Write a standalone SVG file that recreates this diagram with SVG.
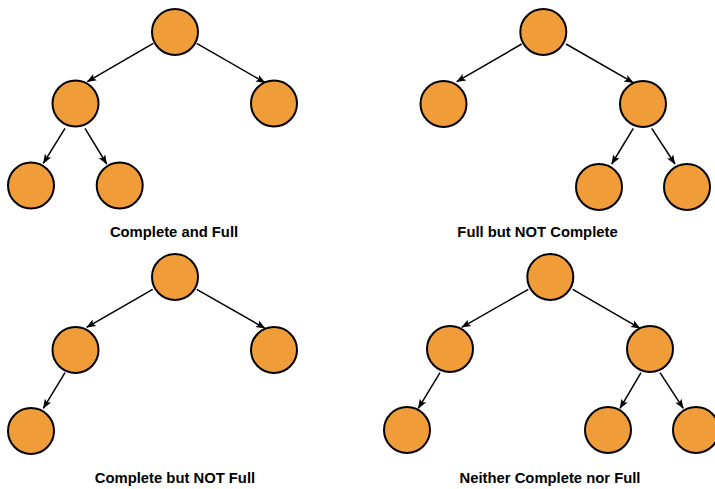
<svg xmlns="http://www.w3.org/2000/svg" width="715" height="489" viewBox="0 0 715 489">
<style>
.n{fill:#F09C38;stroke:#000;stroke-width:2}
.e{fill:none;stroke:#000;stroke-width:1.5;marker-end:url(#ah)}
.t{font-family:"Liberation Sans",Arial,sans-serif;font-weight:bold;font-size:14.8px;fill:#000;text-anchor:middle}
</style>
<defs>
<marker id="ah" markerUnits="userSpaceOnUse" markerWidth="10" markerHeight="10" viewBox="0 0 10 10" refX="9" refY="5" orient="auto">
<path d="M0,1.3 L9.5,5 L0,8.7 L2,5 Z" fill="#000"/>
</marker>
</defs>
<rect width="715" height="489" fill="#fff"/>
<g id="edges">
<line class="e" x1="153.3" y1="43.3" x2="87.3" y2="81.7"/>
<line class="e" x1="196.7" y1="43.3" x2="265" y2="82.7"/>
<line class="e" x1="65" y1="128.3" x2="43.3" y2="163.3"/>
<line class="e" x1="85" y1="128.3" x2="106.7" y2="164"/>
<line class="e" x1="521.7" y1="44" x2="456.7" y2="81.7"/>
<line class="e" x1="566" y1="44" x2="633.3" y2="82.7"/>
<line class="e" x1="633.3" y1="128.3" x2="611.7" y2="164"/>
<line class="e" x1="651.7" y1="128.3" x2="675" y2="164"/>
<line class="e" x1="152.7" y1="289.3" x2="86.7" y2="327.3"/>
<line class="e" x1="196.7" y1="289.3" x2="265" y2="328.3"/>
<line class="e" x1="65" y1="372.7" x2="43.3" y2="408.3"/>
<line class="e" x1="528.3" y1="289.3" x2="461.7" y2="327.3"/>
<line class="e" x1="572.7" y1="289.3" x2="640" y2="328.3"/>
<line class="e" x1="440" y1="372.7" x2="418.3" y2="408.3"/>
<line class="e" x1="641" y1="372.7" x2="620" y2="408.3"/>
<line class="e" x1="660" y1="372.7" x2="683.3" y2="408.3"/>
</g>
<g id="tree1">
<g id="t1-root"><circle class="n" cx="175" cy="32" r="23"/></g>
<g id="t1-l"><circle class="n" cx="75.5" cy="103.5" r="23"/></g>
<g id="t1-r"><circle class="n" cx="274" cy="103.5" r="23"/></g>
<g id="t1-ll"><circle class="n" cx="31" cy="185.5" r="23"/></g>
<g id="t1-lr"><circle class="n" cx="119.7" cy="185.5" r="23"/></g>
<text class="t" x="174" y="237">Complete and Full</text>
</g>
<g id="tree2">
<g id="t2-root"><circle class="n" cx="543.3" cy="32" r="23"/></g>
<g id="t2-l"><circle class="n" cx="443.5" cy="104" r="23"/></g>
<g id="t2-r"><circle class="n" cx="643" cy="104" r="23"/></g>
<g id="t2-rl"><circle class="n" cx="599" cy="187" r="23"/></g>
<g id="t2-rr"><circle class="n" cx="687" cy="187" r="23"/></g>
<text class="t" x="537.5" y="237">Full but NOT Complete</text>
</g>
<g id="tree3">
<g id="t3-root"><circle class="n" cx="175" cy="277" r="23"/></g>
<g id="t3-l"><circle class="n" cx="75.5" cy="350" r="23"/></g>
<g id="t3-r"><circle class="n" cx="274" cy="350" r="23"/></g>
<g id="t3-ll"><circle class="n" cx="31" cy="431" r="23"/></g>
<text class="t" x="175" y="483">Complete but NOT Full</text>
</g>
<g id="tree4">
<g id="t4-root"><circle class="n" cx="550.3" cy="277" r="23"/></g>
<g id="t4-l"><circle class="n" cx="450" cy="349" r="23"/></g>
<g id="t4-r"><circle class="n" cx="650" cy="349" r="23"/></g>
<g id="t4-ll"><circle class="n" cx="407" cy="430" r="23"/></g>
<g id="t4-rl"><circle class="n" cx="608" cy="430" r="23"/></g>
<g id="t4-rr"><circle class="n" cx="696" cy="430" r="23"/></g>
<text class="t" x="550" y="483">Neither Complete nor Full</text>
</g>
</svg>
